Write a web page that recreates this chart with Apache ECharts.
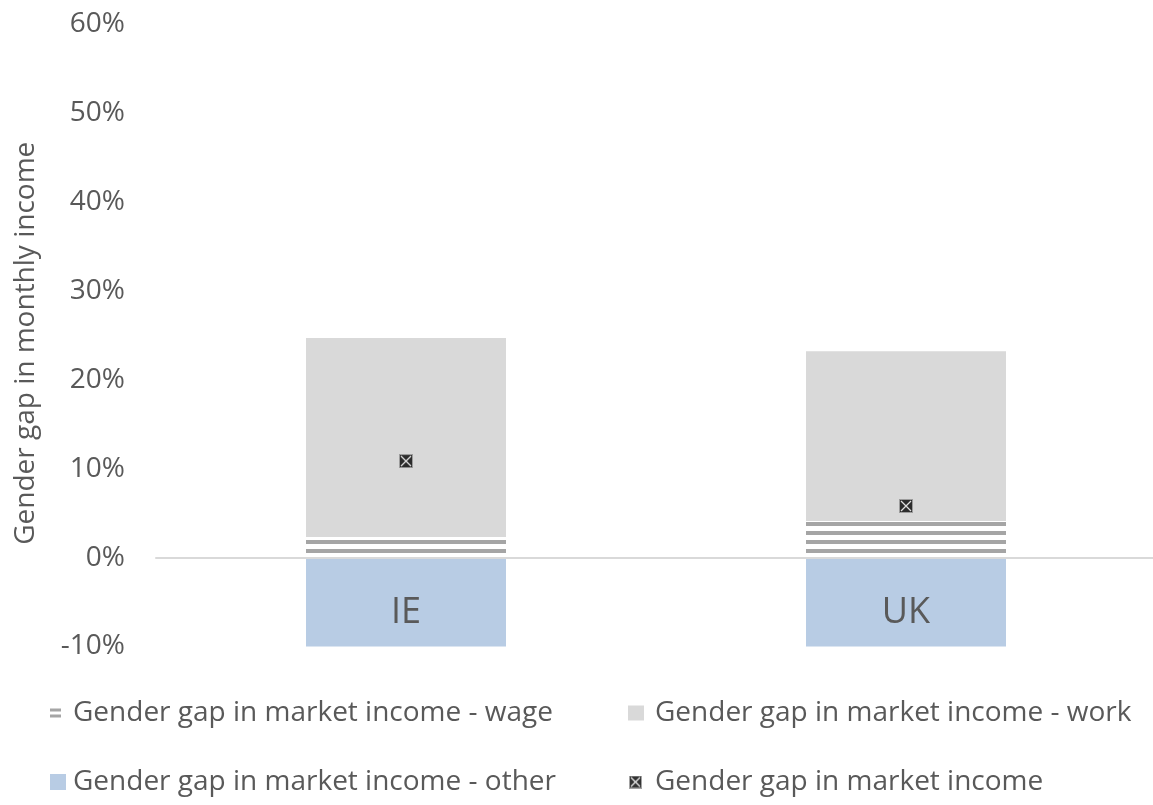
<!DOCTYPE html>
<html>
<head>
<meta charset="utf-8">
<script src="https://cdn.jsdelivr.net/npm/echarts@6/dist/echarts.min.js"></script>
<style>
  html, body { margin: 0; padding: 0; background: #fff; }
  #chart { width: 1153px; height: 805px; }
</style>
</head>
<body>
<div id="chart"></div>
<script>
// data (percent)
var countries = ["IE", "UK"];
var wageGap = [2.3, 4.1];
var workGap = [22.4, 19.1];
var otherGap = [-10.2, -10.2];
var marketGap = [10.85, 5.8];
var seriesNames = [
  "Gender gap in market income - wage",
  "Gender gap in market income - work",
  "Gender gap in market income - other",
  "Gender gap in market income"
];

var textColor = "#595959";
var fontFam = "'Open Sans', sans-serif";

// striped fill for the wage part
function makeStripes() {
  var c = document.createElement("canvas");
  c.width = 10; c.height = 9;
  var g = c.getContext("2d");
  g.fillStyle = "#ffffff";
  g.fillRect(0, 0, 10, 9);
  g.fillStyle = "#a5a5a5";
  g.fillRect(0, 0, 10, 4);
  return c;
}
// black square with a cross
function makeMarker(s) {
  var c = document.createElement("canvas");
  c.width = s; c.height = s;
  var g = c.getContext("2d");
  g.fillStyle = "#000";
  g.fillRect(0, 0, s, s);
  g.strokeStyle = "#8c8c8c";
  g.lineWidth = 1;
  g.strokeRect(0.5, 0.5, s - 1, s - 1);
  g.strokeStyle = "#e0e0e0";
  g.lineWidth = 1.3;
  g.beginPath();
  g.moveTo(2, 2); g.lineTo(s - 2, s - 2);
  g.moveTo(s - 2, 2); g.lineTo(2, s - 2);
  g.stroke();
  return c.toDataURL();
}

var markerImg = makeMarker(14);
var chart = echarts.init(document.getElementById("chart"));

function legendAt(name, left, top, icon, w, h, gap, iconColor) {
  var item = { name: name, icon: icon };
  if (iconColor) item.itemStyle = { color: iconColor };
  return {
    data: [item],
    left: left, top: top,
    padding: 0,
    itemWidth: w, itemHeight: h,
    selectedMode: false,
    textStyle: { color: textColor, fontSize: 28, fontFamily: fontFam, padding: [0, 0, 0, gap] }
  };
}

chart.setOption({
  animation: false,
  legend: [
    legendAt(seriesNames[0], 50, 699, "path://M0,0H11V3H0Z M0,6H11V9H0Z", 11, 9, 7, "#a5a5a5"),
    legendAt(seriesNames[1], 628, 699, "rect", 16, 15, 6),
    legendAt(seriesNames[2], 50, 768, "rect", 16, 16, 2),
    legendAt(seriesNames[3], 629, 768, "image://" + makeMarker(13), 13, 13, 8)
  ],
  grid: { left: 156, right: -3, top: 24, bottom: 158.5, containLabel: false, outerBoundsMode: "none" },
  xAxis: {
    type: "category",
    data: countries,
    z: 10,
    axisLine: { onZero: true, lineStyle: { color: "#d9d9d9", width: 2 } },
    axisTick: { show: false },
    axisLabel: { color: textColor, fontSize: 36, fontFamily: fontFam, margin: -52 }
  },
  yAxis: {
    type: "value",
    min: -10, max: 60, interval: 10,
    name: "Gender gap in monthly income",
    nameLocation: "middle",
    nameGap: 116,
    nameTextStyle: { color: textColor, fontSize: 28, fontFamily: fontFam, padding: [0, 16, 0, 0] },
    axisLine: { show: false },
    axisTick: { show: false },
    splitLine: { show: false },
    axisLabel: { color: textColor, fontSize: 28, fontFamily: fontFam, margin: 31, formatter: "{value}%" }
  },
  series: [
    {
      name: seriesNames[0], type: "bar", stack: "gap", barWidth: 200,
      data: wageGap,
      itemStyle: { color: { image: makeStripes(), repeat: "repeat" } }
    },
    {
      name: seriesNames[1], type: "bar", stack: "gap", barWidth: 200,
      data: workGap,
      itemStyle: { color: "#d9d9d9" }
    },
    {
      name: seriesNames[2], type: "bar", stack: "gap", barWidth: 200,
      data: otherGap,
      itemStyle: { color: "#b8cce4" }
    },
    {
      name: seriesNames[3], type: "scatter",
      data: marketGap,
      symbol: "image://" + markerImg,
      symbolSize: 14,
      z: 5
    }
  ]
});
</script>
</body>
</html>
